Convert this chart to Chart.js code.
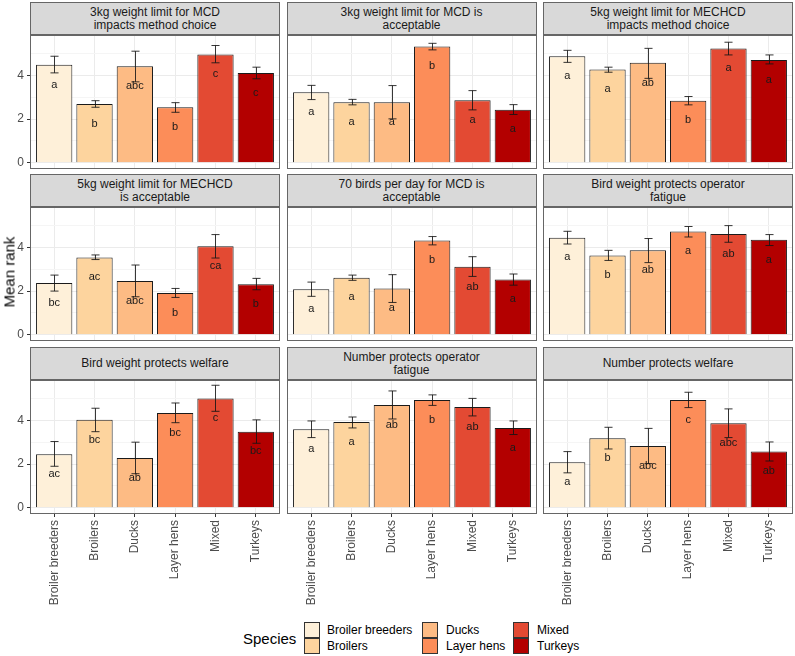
<!DOCTYPE html>
<html>
<head>
<meta charset="utf-8">
<script src="https://cdn.jsdelivr.net/npm/chart.js@4.4.0/dist/chart.umd.min.js"></script>
<style>
  body { margin: 0; background: #fff; font-family: "Liberation Sans", Arial, sans-serif; }
  #page { position: relative; width: 795px; height: 656px; overflow: hidden; }
  canvas { position: absolute; }
  .strip { position: absolute; box-sizing: border-box; width: 250px; height: 33px; background: #D9D9D9;
           border: 1px solid #666; color: #1A1A1A; font-size: 12px; line-height: 13px; white-space: pre-line;
           display: flex; align-items: center; justify-content: center; text-align: center; }
  .ytitle { position: absolute; left: 9px; top: 272px; font-size: 15px; color: #000;
            transform: translate(-50%, -50%) rotate(-90deg); white-space: nowrap; }
  .lgtitle { position: absolute; left: 243px; top: 630px; font-size: 15px; color: #000; }
  .key { position: absolute; width: 16px; height: 16px; box-sizing: border-box; border: 1px solid #333; }
  .klab { position: absolute; font-size: 12px; color: #000; line-height: 16px; }
</style>
</head>
<body>
<div id="page"></div>
<script>
// species on the x axis, in plotting order
const species = ["Broiler breeders", "Broilers", "Ducks", "Layer hens", "Mixed", "Turkeys"];
const speciesColours = ["#FEF0D9", "#FDD49E", "#FDBB84", "#FC8D59", "#E34A33", "#B30000"];

const panelTitles = [
  "3kg weight limit for MCD\nimpacts method choice",
  "3kg weight limit for MCD is\nacceptable",
  "5kg weight limit for MECHCD\nimpacts method choice",
  "5kg weight limit for MECHCD\nis acceptable",
  "70 birds per day for MCD is\nacceptable",
  "Bird weight protects operator\nfatigue",
  "Bird weight protects welfare",
  "Number protects operator\nfatigue",
  "Number protects welfare"
];

// mean rank per panel (rows follow panelTitles, columns follow species)
const meanRank = [
  [4.48, 2.69, 4.41, 2.54, 4.95, 4.11],
  [3.22, 2.77, 2.77, 5.31, 2.86, 2.43],
  [4.87, 4.26, 4.57, 2.84, 5.22, 4.70],
  [2.37, 3.53, 2.46, 1.91, 4.05, 2.31],
  [2.08, 2.61, 2.12, 4.31, 3.11, 2.53],
  [4.44, 3.63, 3.86, 4.72, 4.61, 4.34],
  [2.45, 4.02, 2.28, 4.33, 5.00, 3.48],
  [3.59, 3.92, 4.70, 4.93, 4.61, 3.65],
  [2.08, 3.18, 2.83, 4.93, 3.86, 2.57]
];
const errLow = [
  [4.11, 2.54, 3.70, 2.31, 4.57, 3.84],
  [2.89, 2.65, 2.01, 5.16, 2.42, 2.21],
  [4.59, 4.14, 3.86, 2.65, 4.93, 4.52],
  [2.00, 3.44, 1.74, 1.71, 3.51, 2.06],
  [1.76, 2.49, 1.48, 4.11, 2.67, 2.27],
  [4.15, 3.40, 3.30, 4.47, 4.23, 4.08],
  [1.90, 3.48, 1.56, 3.89, 4.41, 2.95],
  [3.21, 3.65, 4.06, 4.68, 4.20, 3.35],
  [1.60, 2.69, 2.02, 4.58, 3.21, 2.14]
];
const errHigh = [
  [4.87, 2.84, 5.10, 2.75, 5.36, 4.37],
  [3.54, 2.90, 3.53, 5.46, 3.30, 2.66],
  [5.14, 4.37, 5.23, 3.03, 5.51, 4.93],
  [2.73, 3.65, 3.19, 2.12, 4.58, 2.58],
  [2.41, 2.73, 2.75, 4.49, 3.57, 2.78],
  [4.73, 3.86, 4.40, 4.95, 4.99, 4.58],
  [3.03, 4.55, 3.00, 4.79, 5.60, 4.02],
  [3.97, 4.15, 5.34, 5.16, 5.00, 3.97],
  [2.57, 3.68, 3.63, 5.28, 4.52, 3.01]
];
const groupLetters = [
  ["a", "b", "abc", "b", "c", "c"],
  ["a", "a", "a", "b", "a", "a"],
  ["a", "a", "ab", "b", "a", "a"],
  ["bc", "ac", "abc", "b", "ca", "b"],
  ["a", "a", "a", "b", "ab", "a"],
  ["a", "b", "ab", "a", "ab", "a"],
  ["ac", "bc", "ab", "bc", "c", "bc"],
  ["a", "a", "ab", "b", "ab", "a"],
  ["a", "b", "abc", "c", "abc", "ab"]
];
const yTicks = [0, 1, 2, 3, 4, 5];

Chart.defaults.font.family = '"Liberation Sans", Arial, sans-serif';

// panel layout in page pixels
const colX = [30, 286.5, 543];
const rowY = [35, 207, 380];
const panelW = 250, panelH = 134;
const page = document.getElementById("page");

function noPad(s) {
  s.paddingTop = 0; s.paddingBottom = 0; s.paddingLeft = 0; s.paddingRight = 0;
}

// error bars, letters and panel border
const panelDecor = {
  id: "panelDecor",
  afterDatasetsDraw(chart, args, opts) {
    const i = opts.index;
    const ctx = chart.ctx, xs = chart.scales.x, ys = chart.scales.y;
    const cap = xs.getPixelForValue(1.1) - xs.getPixelForValue(1);
    ctx.save();
    ctx.strokeStyle = "rgba(20,20,20,0.85)";
    ctx.lineWidth = 1;
    for (let k = 0; k < species.length; k++) {
      const x = Math.round(xs.getPixelForValue(k + 1)) + 0.5;
      const y1 = ys.getPixelForValue(errLow[i][k]);
      const y2 = ys.getPixelForValue(errHigh[i][k]);
      ctx.beginPath();
      ctx.moveTo(x, y1); ctx.lineTo(x, y2);
      ctx.moveTo(x - cap, y1); ctx.lineTo(x + cap, y1);
      ctx.moveTo(x - cap, y2); ctx.lineTo(x + cap, y2);
      ctx.stroke();
    }
    ctx.fillStyle = "#1A1A1A";
    ctx.font = '11px "Liberation Sans", Arial, sans-serif';
    ctx.textAlign = "center";
    ctx.textBaseline = "middle";
    for (let k = 0; k < species.length; k++) {
      ctx.fillText(groupLetters[i][k], xs.getPixelForValue(k + 1), ys.getPixelForValue(meanRank[i][k] - 0.9));
    }
    const a = chart.chartArea;
    ctx.strokeStyle = "#666";
    ctx.strokeRect(a.left + 0.5, a.top + 0.5, a.right - a.left - 1, a.bottom - a.top - 1);
    ctx.restore();
  }
};

for (let i = 0; i < 9; i++) {
  const r = Math.floor(i / 3), c = i % 3;
  const bottomRow = r === 2, leftCol = c === 0;

  const strip = document.createElement("div");
  strip.className = "strip";
  strip.style.left = colX[c] + "px";
  strip.style.top = (rowY[r] - 33) + "px";
  strip.textContent = panelTitles[i];
  page.appendChild(strip);

  const cv = document.createElement("canvas");
  const cw = 30 + panelW + 1, ch = 1 + panelH + (bottomRow ? 100 : 1);
  cv.width = cw; cv.height = ch;
  cv.style.width = cw + "px"; cv.style.height = ch + "px";
  cv.style.left = (colX[c] - 30) + "px";
  cv.style.top = (rowY[r] - 1) + "px";
  page.appendChild(cv);

  new Chart(cv, {
    type: "bar",
    data: {
      datasets: [{
        data: meanRank[i].map((v, k) => ({ x: k + 1, y: v })),
        backgroundColor: speciesColours,
        borderColor: "#1A1A1A",
        borderWidth: 1,
        barPercentage: 0.9,
        categoryPercentage: 1
      }]
    },
    options: {
      responsive: false,
      animation: false,
      devicePixelRatio: 1,
      events: [],
      layout: { padding: { top: 1, right: 1, bottom: bottomRow ? 0 : 1, left: 0 } },
      plugins: { legend: { display: false }, tooltip: { enabled: false }, panelDecor: { index: i } },
      scales: {
        x: {
          type: "linear", min: 0.4, max: 6.6, offset: false,
          afterBuildTicks: s => { s.ticks = species.map((_, k) => ({ value: k + 1 })); },
          afterFit: s => { s.height = bottomRow ? 100 : 0; noPad(s); },
          border: { display: false },
          grid: { offset: false, color: "#EBEBEB", drawTicks: bottomRow, tickLength: 3, tickColor: "#333" },
          ticks: {
            display: bottomRow, autoSkip: false, minRotation: 90, maxRotation: 90, padding: 3,
            color: "#4D4D4D", font: { size: 12 }, callback: v => species[v - 1]
          }
        },
        y: {
          min: -0.28, max: 5.84,
          afterBuildTicks: s => { s.ticks = yTicks.map(v => ({ value: v })); },
          afterFit: s => { s.width = 30; noPad(s); },
          border: { display: false },
          grid: {
            color: ctx => ctx.tick.value % 2 === 0 ? "#EBEBEB" : "#F5F5F5",
            drawTicks: leftCol, tickLength: 3,
            tickColor: ctx => ctx.tick.value % 2 === 0 ? "#333" : "rgba(0,0,0,0)"
          },
          ticks: {
            display: leftCol, padding: 3, color: "#4D4D4D", font: { size: 12 },
            callback: v => v % 2 === 0 ? String(v) : ""
          }
        }
      }
    },
    plugins: [panelDecor]
  });
}

// axis title
const yt = document.createElement("div");
yt.className = "ytitle";
yt.textContent = "Mean rank";
page.appendChild(yt);

// legend
const lt = document.createElement("div");
lt.className = "lgtitle";
lt.textContent = "Species";
page.appendChild(lt);
const keyX = [304, 422, 513], labX = [327, 446, 537], keyY = [622, 638];
species.forEach((s, k) => {
  const col = Math.floor(k / 2), row = k % 2;
  const key = document.createElement("div");
  key.className = "key";
  key.style.left = keyX[col] + "px";
  key.style.top = keyY[row] + "px";
  key.style.background = speciesColours[k];
  page.appendChild(key);
  const lab = document.createElement("div");
  lab.className = "klab";
  lab.style.left = labX[col] + "px";
  lab.style.top = keyY[row] + "px";
  lab.textContent = s;
  page.appendChild(lab);
});
</script>
</body>
</html>
